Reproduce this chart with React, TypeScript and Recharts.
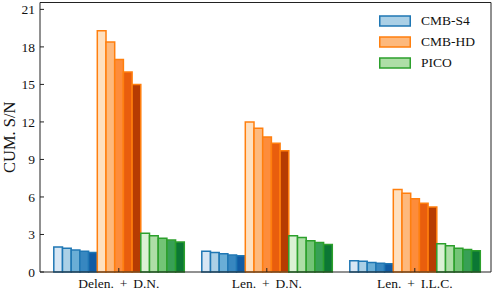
import { Bar, BarChart, XAxis, YAxis } from "recharts"

const categories = ["Delen. + D.N.", "Len. + D.N.", "Len. + I.L.C."]

// five cumulative steps per experiment, per category
const cmbS4 = [
  [2.0, 1.9, 1.75, 1.65, 1.55],
  [1.65, 1.55, 1.45, 1.35, 1.3],
  [0.9, 0.85, 0.75, 0.7, 0.65],
]
const cmbHD = [
  [19.3, 18.4, 17.0, 16.0, 15.0],
  [12.0, 11.5, 10.8, 10.3, 9.7],
  [6.6, 6.3, 5.85, 5.5, 5.2],
]
const pico = [
  [3.1, 2.9, 2.7, 2.55, 2.4],
  [2.9, 2.75, 2.5, 2.35, 2.2],
  [2.25, 2.1, 1.9, 1.8, 1.7],
]
const yTicks = [0, 3, 6, 9, 12, 15, 18, 21]

const series = [
  { key: "s4", name: "CMB-S4", values: cmbS4, edge: "#1f77b4", fills: ["#d6e6f4", "#abd0e6", "#6aaed6", "#3787c0", "#105ba4"] },
  { key: "hd", name: "CMB-HD", values: cmbHD, edge: "#ff7f0e", fills: ["#fee0c0", "#fdb97d", "#fd8c3b", "#e95e0d", "#b63c02"] },
  { key: "pico", name: "PICO", values: pico, edge: "#2ca02c", fills: ["#dbf1d5", "#aedea7", "#73c476", "#37a055", "#0b7734"] },
]

const data = categories.map((name, i) => {
  const row: Record<string, string | number> = { name }
  series.forEach((s) => s.values[i].forEach((v, j) => (row[`${s.key}${j}`] = v)))
  return row
})

const font = "'Liberation Serif', 'Times New Roman', serif"
const axisColor = "#222"

export default function App() {
  return (
    <div style={{ position: "absolute", left: 0, top: 0, width: 496, height: 296, fontFamily: font }}>
      <BarChart
        width={496}
        height={296}
        data={data}
        barGap={0}
        barSize={8.7}
        margin={{ top: 0, right: 0, bottom: 0, left: 0 }}
      >
        <XAxis
          dataKey="name"
          height={24}
          padding={{ left: 4.8, right: 2.2 }}
          tickSize={-4}
          tickMargin={10}
          stroke={axisColor}
          tick={{ fill: "#111", fontSize: 13.5, fontFamily: font, style: { wordSpacing: "2.5px" } }}
        />
        <XAxis
          xAxisId="top"
          dataKey="name"
          orientation="top"
          height={2.5}
          padding={{ left: 4.8, right: 2.2 }}
          tickSize={-4}
          stroke={axisColor}
          tick={false}
        />
        <YAxis
          width={40}
          domain={[0, 21.55]}
          ticks={yTicks}
          tickSize={-4}
          tickMargin={9}
          stroke={axisColor}
          tick={{ fill: "#111", fontSize: 13.5, fontFamily: font }}
          label={{
            value: "CUM. S/N",
            angle: -90,
            position: "insideLeft",
            offset: 9,
            style: { fill: "#111", fontSize: 16.5, fontFamily: font, textAnchor: "middle" },
          }}
        />
        <YAxis
          yAxisId="right"
          orientation="right"
          width={5}
          domain={[0, 21.55]}
          ticks={yTicks}
          tickSize={-4}
          stroke={axisColor}
          tick={false}
        />
        {series.map((s) =>
          s.fills.map((f, j) => (
            <Bar
              key={`${s.key}${j}`}
              dataKey={`${s.key}${j}`}
              fill={f}
              stroke={s.edge}
              strokeWidth={1.5}
              isAnimationActive={false}
            />
          ))
        )}
      </BarChart>
      <div style={{ position: "absolute", left: 379, top: 10, fontSize: 13.5, color: "#111" }}>
        {series.map((s) => (
          <div key={s.key} style={{ display: "flex", alignItems: "center", height: 21 }}>
            <svg width={32} height={12} style={{ display: "block" }}>
              <rect x={0.75} y={1} width={30.5} height={10} fill={s.fills[1]} stroke={s.edge} strokeWidth={1.5} />
            </svg>
            <span style={{ marginLeft: 10, lineHeight: "21px" }}>{s.name}</span>
          </div>
        ))}
      </div>
    </div>
  )
}
